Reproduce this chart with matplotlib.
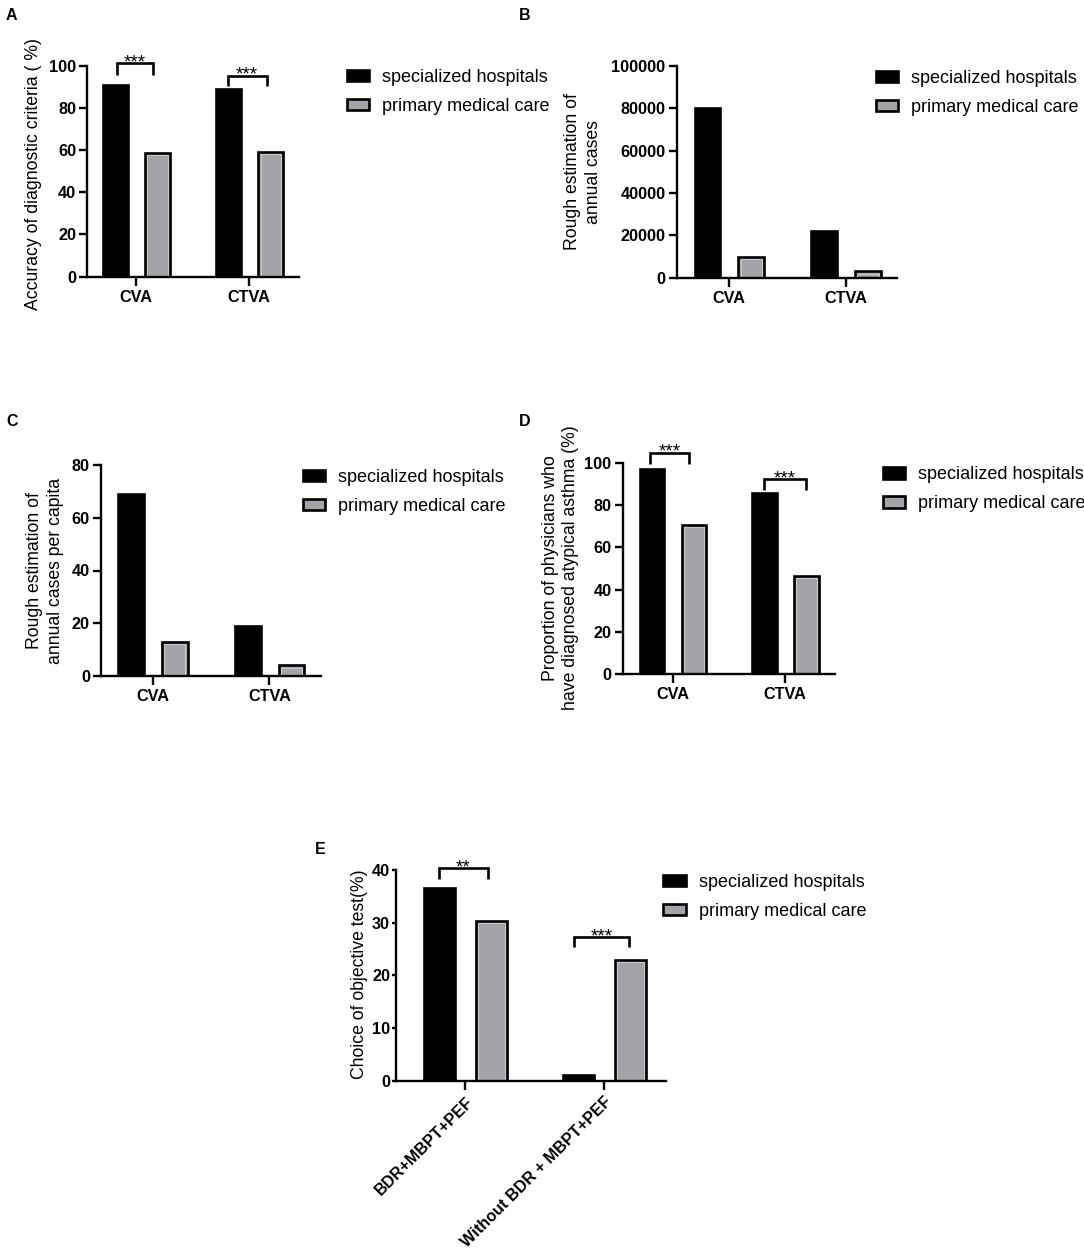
import matplotlib.pyplot as plt
import numpy as np

plt.rcParams['font.family'] = ['Liberation Sans', 'DejaVu Sans']

W, H = 1084, 1252
GRAY = '#a3a3a8'

series = ['specialized hospitals', 'primary medical care']

# panel A
a_cats = ['CVA', 'CTVA']
a_spec = [91, 89]
a_prim = [58.5, 59]
a_stars = ['***', '***']

# panel B
b_cats = ['CVA', 'CTVA']
b_spec = [80000, 22000]
b_prim = [10000, 3000]

# panel C
c_cats = ['CVA', 'CTVA']
c_spec = [69, 19]
c_prim = [13, 4]

# panel D
d_cats = ['CVA', 'CTVA']
d_spec = [97, 85.5]
d_prim = [70.5, 46.5]
d_stars = ['***', '***']

# panel E
e_cats = ['BDR+MBPT+PEF', 'Without BDR + MBPT+PEF']
e_spec = [36.5, 1.1]
e_prim = [30.4, 22.9]
e_stars = ['**', '***']


fig = plt.figure(figsize=(W / 100, H / 100), dpi=100)


def px_axes(x0, y0, x1, y1):
    return fig.add_axes([x0 / W, 1 - y1 / H, (x1 - x0) / W, (y1 - y0) / H])


def sig(ax, x0, x1, y, drop, text):
    ax.plot([x0, x0, x1, x1], [y - drop, y, y, y - drop], color='black', lw=1.9,
            clip_on=False, solid_joinstyle='miter', solid_capstyle='butt')
    ax.annotate(text, xy=((x0 + x1) / 2, y), xytext=(0, -3.0), textcoords='offset points',
                ha='center', va='baseline', fontsize=13.5, annotation_clip=False)


def panel(box, cats, spec, prim, ylim, yticks, xlim, ylabel, ylab_xy, letter, letter_xy,
          leg_xy, rot=0, ytick_len=6):
    ax = px_axes(*box)
    x = np.arange(len(cats))
    wd = 0.22
    b1 = ax.bar(x - 0.185, spec, wd, color='black', edgecolor='black', lw=1.9)
    b2 = ax.bar(x + 0.19, prim, wd, color=GRAY, edgecolor='black', lw=1.9)
    # thin light line just inside the gray bars' border
    dx = (xlim[1] - xlim[0]) / (box[2] - box[0])
    dy = (ylim[1] - ylim[0]) / (box[3] - box[1])
    ax.bar(x + 0.19, np.array(prim) - 2.2 * dy, wd - 4.4 * dx, fill=False,
           edgecolor='#d2d2d5', lw=0.6)
    ax.set_xlim(*xlim)
    ax.set_ylim(*ylim)
    ax.set_yticks(yticks)
    ax.set_xticks(x)
    if rot:
        ax.set_xticklabels(cats, rotation=rot, ha='right', rotation_mode='anchor',
                           fontsize=11.7, fontweight='bold')
    else:
        ax.set_xticklabels(cats, fontsize=11.7, fontweight='bold')
    for t in ax.get_yticklabels():
        t.set_fontsize(11.7)
        t.set_fontweight('bold')
    for s in ['top', 'right']:
        ax.spines[s].set_visible(False)
    for s in ['left', 'bottom']:
        ax.spines[s].set_linewidth(1.7)
    ax.tick_params(axis='y', direction='out', length=ytick_len, width=1.7,
                   pad=2 if ytick_len > 4 else 1)
    ax.tick_params(axis='x', direction='out', length=6.5, width=1.7, pad=3)
    fig.text(ylab_xy[0] / W, 1 - ylab_xy[1] / H, ylabel, rotation=90, ha='center',
             va='center', fontsize=12.7, multialignment='center', linespacing=1.3)
    fig.text(letter_xy[0] / W, 1 - letter_xy[1] / H, letter, ha='center', va='center',
             fontsize=11.5, fontweight='bold')
    ax.legend([b1, b2], series, loc='upper left',
              bbox_to_anchor=(leg_xy[0] / W, 1 - (leg_xy[1] - 10.5) / H),
              bbox_transform=fig.transFigure,
              frameon=False, borderpad=0, borderaxespad=0, fontsize=13,
              handlelength=1.25, handleheight=0.61, handletextpad=0.72, labelspacing=0.65)
    return ax


ax = panel((87.3, 65.7, 299, 276.7), a_cats, a_spec, a_prim, (0, 100), range(0, 101, 20),
           (-0.43, 1.439), 'Accuracy of diagnostic criteria ( %)', (34, 174),
           'A', (11.7, 15.3), (346.7, 79.5))
sig(ax, -0.17, 0.153, 101.1, 5.5, a_stars[0])
sig(ax, 1 - 0.19, 1 + 0.153, 95.3, 4.9, a_stars[1])

panel((676.7, 66, 897.3, 277.7), b_cats, b_spec, b_prim, (0, 100000), range(0, 100001, 20000),
      (-0.448, 1.442), 'Rough estimation of\nannual cases', (583, 172),
      'B', (525, 15.3), (875.7, 80.5))

panel((101, 465, 320.7, 676), c_cats, c_spec, c_prim, (0, 80), range(0, 81, 20),
      (-0.443, 1.44), 'Rough estimation of\nannual cases per capita', (44.7, 571),
      'C', (11.7, 421.7), (302.7, 479.5))

ax = panel((622.7, 462.7, 835, 674.3), d_cats, d_spec, d_prim, (0, 100), range(0, 101, 20),
           (-0.445, 1.445), 'Proportion of physicians who\nhave diagnosed atypical asthma (%)',
           (560.5, 568), 'D', (525, 421.7), (882.7, 477))
sig(ax, -0.2, 0.145, 104.7, 5.3, d_stars[0])
sig(ax, 1 - 0.186, 1 + 0.184, 92.3, 5.2, d_stars[1])

ax = panel((395.7, 870, 666, 1080.7), e_cats, e_spec, e_prim, (0, 40), range(0, 41, 10),
           (-0.5, 1.446), 'Choice of objective test(%)', (359, 974),
           'E', (320, 849), (663.3, 884.5), rot=45, ytick_len=3)
sig(ax, -0.187, 0.163, 40.3, 2.0, e_stars[0])
sig(ax, 1 - 0.216, 1 + 0.182, 27.3, 2.0, e_stars[1])

fig.savefig('out.png', dpi=100)
